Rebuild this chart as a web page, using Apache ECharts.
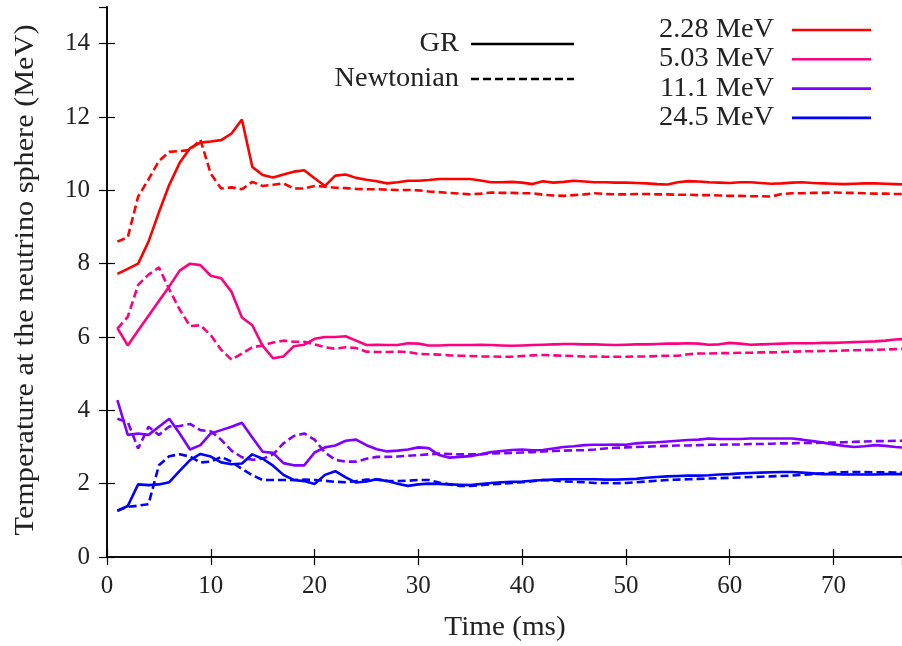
<!DOCTYPE html>
<html>
<head>
<meta charset="utf-8">
<script src="https://cdn.jsdelivr.net/npm/echarts@6/dist/echarts.min.js"></script>
<style>
  html, body { margin: 0; padding: 0; background: #fff; }
  #chart { width: 902px; height: 646px; }
</style>
</head>
<body>
<div id="chart"></div>
<script>
// Time after bounce (ms)
const timeMs = [1,2,3,4,5,6,7,8,9,10,11,12,13,14,15,16,17,18,19,20,
  21,22,23,24,25,26,27,28,29,30,31,32,33,34,35,36,37,38,39,40,
  41,42,43,44,45,46,47,48,49,50,51,52,53,54,55,56,57,58,59,60,
  61,62,63,64,65,66,67,68,69,70,71,72,73,74,75,76,77];

// Neutrino-sphere temperature (MeV), general relativistic runs
const gr228 = [7.72,7.86,8.0,8.6,9.4,10.15,10.75,11.15,11.3,11.33,11.37,11.55,11.93,10.64,10.42,10.35,10.43,10.51,10.55,10.33,
  10.12,10.4,10.43,10.34,10.29,10.25,10.19,10.22,10.26,10.26,10.28,10.31,10.31,10.31,10.31,10.27,10.22,10.22,10.23,10.21,
  10.17,10.25,10.21,10.23,10.26,10.24,10.22,10.22,10.21,10.21,10.2,10.19,10.17,10.16,10.22,10.25,10.24,10.22,10.21,10.2,
  10.22,10.22,10.2,10.18,10.19,10.21,10.22,10.2,10.19,10.18,10.17,10.18,10.19,10.19,10.18,10.17,10.16];
const gr503 = [6.24,5.77,6.18,6.58,6.98,7.38,7.81,8.0,7.96,7.67,7.6,7.23,6.53,6.32,5.76,5.42,5.47,5.75,5.79,5.95,
  6.0,6.0,6.02,5.9,5.78,5.79,5.78,5.78,5.83,5.82,5.77,5.77,5.78,5.78,5.78,5.79,5.78,5.77,5.76,5.77,
  5.78,5.79,5.8,5.81,5.81,5.8,5.8,5.79,5.78,5.79,5.8,5.8,5.81,5.82,5.82,5.83,5.82,5.79,5.8,5.84,
  5.82,5.79,5.8,5.81,5.82,5.83,5.83,5.83,5.84,5.84,5.85,5.86,5.87,5.88,5.9,5.93,5.95];
const gr111 = [4.28,3.33,3.37,3.33,3.55,3.77,3.37,2.93,3.05,3.37,3.46,3.55,3.66,3.26,2.87,2.84,2.56,2.5,2.5,2.85,
  2.99,3.04,3.17,3.2,3.05,2.94,2.88,2.9,2.93,2.99,2.97,2.78,2.71,2.73,2.75,2.8,2.86,2.89,2.92,2.93,
  2.91,2.92,2.96,3.0,3.02,3.05,3.06,3.06,3.07,3.06,3.1,3.12,3.13,3.15,3.17,3.19,3.2,3.23,3.22,3.22,
  3.22,3.23,3.23,3.23,3.23,3.23,3.2,3.16,3.12,3.07,3.03,3.0,3.02,3.05,3.03,3.0,2.98];
const gr245 = [1.26,1.39,1.98,1.96,1.98,2.04,2.35,2.64,2.81,2.74,2.58,2.53,2.55,2.8,2.68,2.49,2.24,2.1,2.07,1.99,
  2.24,2.34,2.17,2.03,2.06,2.12,2.07,2.0,1.94,1.98,2.0,1.99,1.98,1.97,1.96,1.99,2.02,2.04,2.05,2.06,
  2.08,2.1,2.11,2.12,2.12,2.12,2.12,2.11,2.11,2.12,2.13,2.16,2.18,2.2,2.21,2.22,2.22,2.23,2.25,2.26,
  2.28,2.29,2.3,2.31,2.32,2.32,2.3,2.28,2.26,2.26,2.25,2.25,2.25,2.25,2.26,2.26,2.26];

// Neutrino-sphere temperature (MeV), Newtonian runs
const nw228 = [8.6,8.72,9.83,10.3,10.8,11.05,11.07,11.1,11.38,10.45,10.05,10.08,10.03,10.23,10.12,10.15,10.19,10.05,10.05,10.12,
  10.1,10.07,10.06,10.04,10.03,10.03,10.02,10.01,10.01,10.0,9.97,9.95,9.93,9.91,9.89,9.91,9.94,9.93,9.93,9.92,
  9.92,9.88,9.86,9.85,9.87,9.89,9.92,9.9,9.89,9.89,9.9,9.9,9.89,9.89,9.88,9.88,9.87,9.87,9.86,9.85,
  9.85,9.84,9.84,9.83,9.9,9.92,9.92,9.93,9.93,9.94,9.93,9.93,9.92,9.91,9.91,9.9,9.9];
const nw503 = [6.23,6.55,7.42,7.7,7.9,7.3,6.75,6.3,6.32,6.05,5.65,5.38,5.55,5.72,5.77,5.85,5.9,5.87,5.87,5.8,
  5.72,5.68,5.72,5.7,5.6,5.59,5.59,5.6,5.59,5.54,5.53,5.52,5.5,5.49,5.48,5.47,5.47,5.46,5.46,5.48,
  5.5,5.51,5.5,5.49,5.48,5.47,5.47,5.46,5.46,5.46,5.47,5.47,5.48,5.49,5.49,5.53,5.55,5.55,5.56,5.56,
  5.57,5.57,5.58,5.58,5.59,5.6,5.61,5.61,5.62,5.62,5.63,5.64,5.65,5.65,5.66,5.67,5.68];
const nw111 = [3.77,3.68,2.96,3.55,3.33,3.56,3.57,3.63,3.46,3.43,3.2,2.9,2.72,2.65,2.68,2.8,3.1,3.3,3.37,3.2,
  2.85,2.65,2.6,2.6,2.68,2.73,2.73,2.74,2.76,2.78,2.8,2.82,2.81,2.8,2.8,2.8,2.82,2.83,2.84,2.85,
  2.86,2.88,2.89,2.9,2.91,2.91,2.93,2.96,2.98,2.99,3.0,3.01,3.02,3.03,3.04,3.04,3.05,3.06,3.06,3.07,
  3.07,3.08,3.08,3.09,3.1,3.1,3.11,3.11,3.12,3.12,3.13,3.14,3.15,3.16,3.16,3.17,3.17];
const nw245 = [1.26,1.37,1.4,1.44,2.5,2.75,2.8,2.74,2.58,2.6,2.73,2.6,2.4,2.23,2.1,2.1,2.1,2.1,2.11,2.1,
  2.08,2.05,2.04,2.07,2.11,2.11,2.08,2.07,2.08,2.1,2.1,2.03,1.98,1.94,1.94,1.96,1.98,2.0,2.02,2.04,
  2.07,2.1,2.09,2.06,2.05,2.04,2.02,2.02,2.01,2.02,2.04,2.06,2.08,2.1,2.11,2.12,2.13,2.14,2.15,2.16,
  2.17,2.18,2.19,2.2,2.21,2.22,2.24,2.26,2.28,2.3,2.31,2.32,2.32,2.31,2.31,2.3,2.3];

// Neutrino energy groups and their colours
const energyLabels = ['2.28 MeV', '5.03 MeV', '11.1 MeV', '24.5 MeV'];
const energyColors = ['#ff0000', '#ff0080', '#8000ff', '#0000ff'];
const grRuns = [gr228, gr503, gr111, gr245];
const newtRuns = [nw228, nw503, nw111, nw245];
const gravityLabels = ['GR', 'Newtonian'];
const xTitle = 'Time (ms)';
const yTitle = 'Temperature at the neutrino sphere (MeV)';

const FONT = 'Liberation Serif';
const TEXT_COLOR = '#222';
const DASH = [8, 4];

const chart = echarts.init(document.getElementById('chart'), null, { renderer: 'canvas' });

const toPairs = vals => timeMs.map((t, i) => [t, vals[i]]);

const series = [];
energyLabels.forEach((lab, k) => {
  series.push({
    name: lab + ' ' + gravityLabels[0], type: 'line', data: toPairs(grRuns[k]),
    showSymbol: false, symbol: 'none', clip: true, z: 3,
    lineStyle: { color: energyColors[k], width: 2.6, type: 'solid' }
  });
  series.push({
    name: lab + ' ' + gravityLabels[1], type: 'line', data: toPairs(newtRuns[k]),
    showSymbol: false, symbol: 'none', clip: true, z: 2,
    lineStyle: { color: energyColors[k], width: 2.6, type: DASH }
  });
});

// Legend (text + line samples) and axis titles
const graphics = [];
gravityLabels.forEach((lab, i) => {
  const y = 44 + i * 35;
  graphics.push({ type: 'text', x: 459, y: y, scaleX: 1.05,
    style: { text: lab, font: '27px ' + FONT, fill: TEXT_COLOR, textAlign: 'right', textVerticalAlign: 'middle' } });
  graphics.push({ type: 'line', shape: { x1: 471, y1: y, x2: 574, y2: y },
    style: { stroke: '#000', lineWidth: 2.6, lineDash: i === 0 ? null : DASH } });
});
energyLabels.forEach((lab, i) => {
  const y = 30 + i * 29.3;
  graphics.push({ type: 'text', x: 774, y: y, scaleX: 1.05,
    style: { text: lab, font: '27px ' + FONT, fill: TEXT_COLOR, textAlign: 'right', textVerticalAlign: 'middle' } });
  graphics.push({ type: 'line', shape: { x1: 792, y1: y, x2: 871, y2: y },
    style: { stroke: energyColors[i], lineWidth: 2.6 } });
});
graphics.push({ type: 'text', x: 505, y: 628, scaleX: 1.08,
  style: { text: xTitle, font: '27px ' + FONT, fill: TEXT_COLOR, textAlign: 'center', textVerticalAlign: 'middle' } });
graphics.push({ type: 'text', x: 26, y: 280, rotation: Math.PI / 2, scaleX: 1.12,
  style: { text: yTitle, font: '27px ' + FONT, fill: TEXT_COLOR, textAlign: 'center', textVerticalAlign: 'middle' } });

const tickStyle = { color: '#000', width: 1.2 };
const axisLineStyle = { color: '#000', width: 1.6 };

chart.setOption({
  animation: false,
  backgroundColor: '#fff',
  grid: { left: 107, right: 0, top: 7, bottom: 89, containLabel: false, outerBoundsMode: 'none' },
  xAxis: [{
    type: 'value', min: 0, max: 76.6, interval: 10, position: 'bottom',
    axisLine: { show: true, lineStyle: axisLineStyle },
    axisTick: { show: true, inside: true, length: 8, lineStyle: tickStyle },
    axisLabel: { fontFamily: FONT, fontSize: 25, color: TEXT_COLOR, margin: 17, showMaxLabel: false },
    splitLine: { show: false }
  }, {
    type: 'value', min: 0, max: 76.6, interval: 10, position: 'top',
    axisLine: { show: true, lineStyle: axisLineStyle },
    axisTick: { show: true, inside: true, length: 8, lineStyle: tickStyle },
    axisLabel: { show: false }, splitLine: { show: false }
  }],
  yAxis: [{
    type: 'value', min: 0, max: 15, interval: 2, position: 'left',
    axisLine: { show: true, lineStyle: axisLineStyle },
    axisTick: { show: true, inside: true, length: 8, lineStyle: tickStyle },
    axisLabel: { fontFamily: FONT, fontSize: 25, color: TEXT_COLOR, margin: 17, showMaxLabel: false },
    splitLine: { show: false }
  }, {
    type: 'value', min: 0, max: 15, interval: 2, position: 'right',
    axisLine: { show: true, lineStyle: axisLineStyle },
    axisTick: { show: true, inside: true, length: 8, lineStyle: tickStyle },
    axisLabel: { show: false }, splitLine: { show: false }
  }],
  series: series,
  graphic: graphics
});
</script>
</body>
</html>
